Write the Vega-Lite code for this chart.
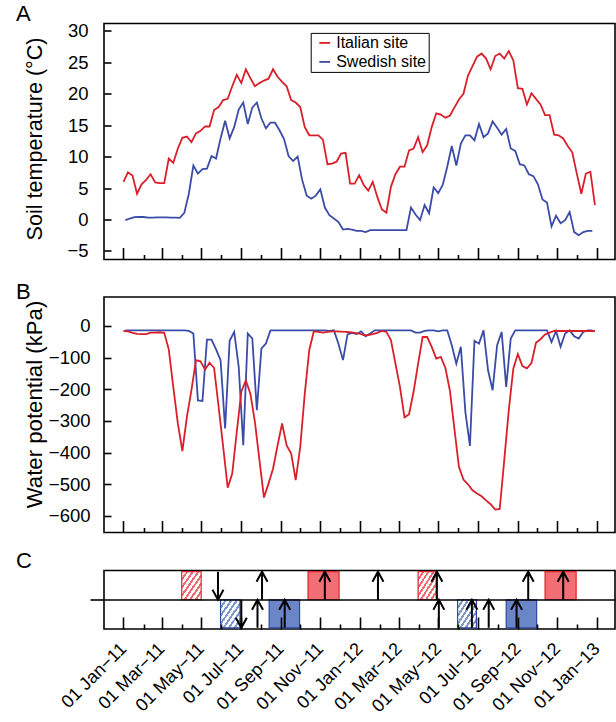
{
  "$schema": "https://vega.github.io/schema/vega-lite/v6.json",
  "padding": {"left": 15, "top": 2.5, "right": 1, "bottom": 0},
  "bounds": "flush",
  "spacing": 37.5,
  "background": "white",
  "config": {
    "font": "Liberation Sans",
    "view": {"stroke": "#000", "strokeWidth": 1.6},
    "axis": {"grid": false, "domain": false, "tickColor": "#000", "tickWidth": 1.6, "labelColor": "#000", "titleColor": "#000", "labelFont": "Liberation Sans", "titleFont": "Liberation Sans", "titleFontWeight": "normal"},
    "title": {"fontSize": 22, "fontWeight": "normal", "anchor": "start", "frame": "group", "offset": 0, "baseline": "alphabetic", "dx": -88, "color": "#000", "font": "Liberation Sans"}
  },
  "datasets": {
    "series": [
      {"site": "Swedish site", "date": "2011-01-04", "temp": -0.1, "wp": -14},
      {"site": "Swedish site", "date": "2011-01-11", "temp": 0.16, "wp": -14},
      {"site": "Swedish site", "date": "2011-01-18", "temp": 0.37, "wp": -14},
      {"site": "Swedish site", "date": "2011-01-25", "temp": 0.4, "wp": -14},
      {"site": "Swedish site", "date": "2011-02-01", "temp": 0.4, "wp": -14},
      {"site": "Swedish site", "date": "2011-02-08", "temp": 0.3, "wp": -14},
      {"site": "Swedish site", "date": "2011-02-15", "temp": 0.3, "wp": -14},
      {"site": "Swedish site", "date": "2011-02-22", "temp": 0.35, "wp": -14},
      {"site": "Swedish site", "date": "2011-03-01", "temp": 0.35, "wp": -14},
      {"site": "Swedish site", "date": "2011-03-08", "temp": 0.35, "wp": -14},
      {"site": "Swedish site", "date": "2011-03-15", "temp": 0.3, "wp": -14},
      {"site": "Swedish site", "date": "2011-03-22", "temp": 0.3, "wp": -14},
      {"site": "Swedish site", "date": "2011-03-29", "temp": 0.27, "wp": -14},
      {"site": "Swedish site", "date": "2011-04-05", "temp": 1.06, "wp": -14},
      {"site": "Swedish site", "date": "2011-04-12", "temp": 4.1, "wp": -16},
      {"site": "Swedish site", "date": "2011-04-19", "temp": 8.6, "wp": -24},
      {"site": "Swedish site", "date": "2011-04-26", "temp": 7.3, "wp": -235},
      {"site": "Swedish site", "date": "2011-05-03", "temp": 8.0, "wp": -237},
      {"site": "Swedish site", "date": "2011-05-10", "temp": 8.1, "wp": -43},
      {"site": "Swedish site", "date": "2011-05-17", "temp": 10.1, "wp": -43},
      {"site": "Swedish site", "date": "2011-05-24", "temp": 9.7, "wp": -74},
      {"site": "Swedish site", "date": "2011-05-31", "temp": 12.9, "wp": -108},
      {"site": "Swedish site", "date": "2011-06-07", "temp": 15.7, "wp": -324},
      {"site": "Swedish site", "date": "2011-06-14", "temp": 12.9, "wp": -47},
      {"site": "Swedish site", "date": "2011-06-21", "temp": 14.7, "wp": -19},
      {"site": "Swedish site", "date": "2011-06-28", "temp": 17.5, "wp": -129},
      {"site": "Swedish site", "date": "2011-07-05", "temp": 18.6, "wp": -377},
      {"site": "Swedish site", "date": "2011-07-12", "temp": 15.2, "wp": -24},
      {"site": "Swedish site", "date": "2011-07-19", "temp": 17.8, "wp": -40},
      {"site": "Swedish site", "date": "2011-07-26", "temp": 18.6, "wp": -266},
      {"site": "Swedish site", "date": "2011-08-02", "temp": 16.1, "wp": -72},
      {"site": "Swedish site", "date": "2011-08-09", "temp": 14.5, "wp": -56},
      {"site": "Swedish site", "date": "2011-08-16", "temp": 15.4, "wp": -14},
      {"site": "Swedish site", "date": "2011-08-23", "temp": 15.4, "wp": -14},
      {"site": "Swedish site", "date": "2011-08-30", "temp": 14.2, "wp": -14},
      {"site": "Swedish site", "date": "2011-09-06", "temp": 12.8, "wp": -14},
      {"site": "Swedish site", "date": "2011-09-13", "temp": 10.1, "wp": -14},
      {"site": "Swedish site", "date": "2011-09-20", "temp": 9.3, "wp": -14},
      {"site": "Swedish site", "date": "2011-09-27", "temp": 10.0, "wp": -14},
      {"site": "Swedish site", "date": "2011-10-04", "temp": 6.3, "wp": -14},
      {"site": "Swedish site", "date": "2011-10-11", "temp": 3.8, "wp": -14},
      {"site": "Swedish site", "date": "2011-10-18", "temp": 3.3, "wp": -14},
      {"site": "Swedish site", "date": "2011-10-25", "temp": 3.8, "wp": -14},
      {"site": "Swedish site", "date": "2011-11-01", "temp": 4.8, "wp": -14},
      {"site": "Swedish site", "date": "2011-11-08", "temp": 1.9, "wp": -14},
      {"site": "Swedish site", "date": "2011-11-15", "temp": 0.7, "wp": -16},
      {"site": "Swedish site", "date": "2011-11-22", "temp": 0.16, "wp": -14},
      {"site": "Swedish site", "date": "2011-11-29", "temp": -0.4, "wp": -56},
      {"site": "Swedish site", "date": "2011-12-06", "temp": -1.6, "wp": -108},
      {"site": "Swedish site", "date": "2011-12-13", "temp": -1.5, "wp": -27},
      {"site": "Swedish site", "date": "2011-12-20", "temp": -1.6, "wp": -22},
      {"site": "Swedish site", "date": "2011-12-27", "temp": -1.8, "wp": -26},
      {"site": "Swedish site", "date": "2012-01-03", "temp": -1.8, "wp": -17},
      {"site": "Swedish site", "date": "2012-01-10", "temp": -2.0, "wp": -33},
      {"site": "Swedish site", "date": "2012-01-17", "temp": -1.7, "wp": -24},
      {"site": "Swedish site", "date": "2012-01-24", "temp": -1.7, "wp": -14},
      {"site": "Swedish site", "date": "2012-01-31", "temp": -1.7, "wp": -14},
      {"site": "Swedish site", "date": "2012-02-07", "temp": -1.7, "wp": -14},
      {"site": "Swedish site", "date": "2012-02-14", "temp": -1.7, "wp": -14},
      {"site": "Swedish site", "date": "2012-02-21", "temp": -1.7, "wp": -14},
      {"site": "Swedish site", "date": "2012-02-28", "temp": -1.7, "wp": -14},
      {"site": "Swedish site", "date": "2012-03-06", "temp": -1.7, "wp": -14},
      {"site": "Swedish site", "date": "2012-03-13", "temp": -1.7, "wp": -14},
      {"site": "Swedish site", "date": "2012-03-20", "temp": 1.9, "wp": -14},
      {"site": "Swedish site", "date": "2012-03-27", "temp": 0.8, "wp": -21},
      {"site": "Swedish site", "date": "2012-04-03", "temp": -0.1, "wp": -21},
      {"site": "Swedish site", "date": "2012-04-10", "temp": 2.3, "wp": -16},
      {"site": "Swedish site", "date": "2012-04-17", "temp": 1.0, "wp": -14},
      {"site": "Swedish site", "date": "2012-04-24", "temp": 5.1, "wp": -14},
      {"site": "Swedish site", "date": "2012-05-01", "temp": 4.2, "wp": -17},
      {"site": "Swedish site", "date": "2012-05-08", "temp": 5.5, "wp": -14},
      {"site": "Swedish site", "date": "2012-05-15", "temp": 8.4, "wp": -14},
      {"site": "Swedish site", "date": "2012-05-22", "temp": 11.7, "wp": -61},
      {"site": "Swedish site", "date": "2012-05-29", "temp": 8.6, "wp": -119},
      {"site": "Swedish site", "date": "2012-06-05", "temp": 12.1, "wp": -66},
      {"site": "Swedish site", "date": "2012-06-12", "temp": 13.4, "wp": -272},
      {"site": "Swedish site", "date": "2012-06-19", "temp": 13.4, "wp": -379},
      {"site": "Swedish site", "date": "2012-06-26", "temp": 12.6, "wp": -47},
      {"site": "Swedish site", "date": "2012-07-03", "temp": 15.2, "wp": -56},
      {"site": "Swedish site", "date": "2012-07-10", "temp": 13.1, "wp": -14},
      {"site": "Swedish site", "date": "2012-07-17", "temp": 13.7, "wp": -140},
      {"site": "Swedish site", "date": "2012-07-24", "temp": 15.6, "wp": -203},
      {"site": "Swedish site", "date": "2012-07-31", "temp": 14.6, "wp": -61},
      {"site": "Swedish site", "date": "2012-08-07", "temp": 13.5, "wp": -19},
      {"site": "Swedish site", "date": "2012-08-14", "temp": 14.4, "wp": -193},
      {"site": "Swedish site", "date": "2012-08-21", "temp": 11.3, "wp": -40},
      {"site": "Swedish site", "date": "2012-08-28", "temp": 10.9, "wp": -14},
      {"site": "Swedish site", "date": "2012-09-04", "temp": 8.8, "wp": -14},
      {"site": "Swedish site", "date": "2012-09-11", "temp": 8.6, "wp": -14},
      {"site": "Swedish site", "date": "2012-09-18", "temp": 7.2, "wp": -14},
      {"site": "Swedish site", "date": "2012-09-25", "temp": 6.9, "wp": -14},
      {"site": "Swedish site", "date": "2012-10-02", "temp": 5.6, "wp": -14},
      {"site": "Swedish site", "date": "2012-10-09", "temp": 3.2, "wp": -14},
      {"site": "Swedish site", "date": "2012-10-16", "temp": 2.7, "wp": -14},
      {"site": "Swedish site", "date": "2012-10-23", "temp": -1.1, "wp": -51},
      {"site": "Swedish site", "date": "2012-10-30", "temp": 0.6, "wp": -16},
      {"site": "Swedish site", "date": "2012-11-06", "temp": -0.6, "wp": -66},
      {"site": "Swedish site", "date": "2012-11-13", "temp": -0.1, "wp": -24},
      {"site": "Swedish site", "date": "2012-11-20", "temp": 1.2, "wp": -14},
      {"site": "Swedish site", "date": "2012-11-27", "temp": -2.0, "wp": -33},
      {"site": "Swedish site", "date": "2012-12-04", "temp": -2.5, "wp": -40},
      {"site": "Swedish site", "date": "2012-12-11", "temp": -2.0, "wp": -19},
      {"site": "Swedish site", "date": "2012-12-18", "temp": -1.8, "wp": -14},
      {"site": "Swedish site", "date": "2012-12-25", "temp": -1.8, "wp": -14},
      {"site": "Italian site", "date": "2011-01-01", "temp": 6.0, "wp": -16},
      {"site": "Italian site", "date": "2011-01-08", "temp": 7.5, "wp": -17},
      {"site": "Italian site", "date": "2011-01-15", "temp": 7.0, "wp": -22},
      {"site": "Italian site", "date": "2011-01-22", "temp": 4.1, "wp": -25},
      {"site": "Italian site", "date": "2011-01-29", "temp": 5.6, "wp": -26},
      {"site": "Italian site", "date": "2011-02-05", "temp": 6.3, "wp": -26},
      {"site": "Italian site", "date": "2011-02-12", "temp": 7.2, "wp": -21},
      {"site": "Italian site", "date": "2011-02-19", "temp": 5.9, "wp": -21},
      {"site": "Italian site", "date": "2011-02-26", "temp": 5.8, "wp": -20},
      {"site": "Italian site", "date": "2011-03-05", "temp": 5.8, "wp": -22},
      {"site": "Italian site", "date": "2011-03-12", "temp": 9.7, "wp": -74},
      {"site": "Italian site", "date": "2011-03-19", "temp": 9.0, "wp": -193},
      {"site": "Italian site", "date": "2011-03-26", "temp": 11.3, "wp": -308},
      {"site": "Italian site", "date": "2011-04-02", "temp": 13.0, "wp": -395},
      {"site": "Italian site", "date": "2011-04-09", "temp": 13.2, "wp": -287},
      {"site": "Italian site", "date": "2011-04-16", "temp": 12.3, "wp": -203},
      {"site": "Italian site", "date": "2011-04-23", "temp": 13.7, "wp": -108},
      {"site": "Italian site", "date": "2011-04-30", "temp": 14.1, "wp": -112},
      {"site": "Italian site", "date": "2011-05-07", "temp": 14.8, "wp": -138},
      {"site": "Italian site", "date": "2011-05-14", "temp": 14.8, "wp": -116},
      {"site": "Italian site", "date": "2011-05-21", "temp": 17.4, "wp": -133},
      {"site": "Italian site", "date": "2011-05-28", "temp": 17.9, "wp": -256},
      {"site": "Italian site", "date": "2011-06-04", "temp": 19.0, "wp": -382},
      {"site": "Italian site", "date": "2011-06-11", "temp": 19.2, "wp": -511},
      {"site": "Italian site", "date": "2011-06-18", "temp": 21.2, "wp": -466},
      {"site": "Italian site", "date": "2011-06-25", "temp": 23.0, "wp": -335},
      {"site": "Italian site", "date": "2011-07-02", "temp": 21.7, "wp": -208},
      {"site": "Italian site", "date": "2011-07-09", "temp": 23.9, "wp": -172},
      {"site": "Italian site", "date": "2011-07-16", "temp": 22.5, "wp": -214},
      {"site": "Italian site", "date": "2011-07-23", "temp": 21.2, "wp": -303},
      {"site": "Italian site", "date": "2011-07-30", "temp": 21.7, "wp": -424},
      {"site": "Italian site", "date": "2011-08-06", "temp": 22.1, "wp": -542},
      {"site": "Italian site", "date": "2011-08-13", "temp": 22.4, "wp": -498},
      {"site": "Italian site", "date": "2011-08-20", "temp": 23.9, "wp": -451},
      {"site": "Italian site", "date": "2011-08-27", "temp": 22.7, "wp": -377},
      {"site": "Italian site", "date": "2011-09-03", "temp": 21.9, "wp": -308},
      {"site": "Italian site", "date": "2011-09-10", "temp": 21.2, "wp": -377},
      {"site": "Italian site", "date": "2011-09-17", "temp": 19.0, "wp": -403},
      {"site": "Italian site", "date": "2011-09-24", "temp": 18.6, "wp": -487},
      {"site": "Italian site", "date": "2011-10-01", "temp": 17.9, "wp": -382},
      {"site": "Italian site", "date": "2011-10-08", "temp": 14.7, "wp": -214},
      {"site": "Italian site", "date": "2011-10-15", "temp": 13.4, "wp": -75},
      {"site": "Italian site", "date": "2011-10-22", "temp": 13.4, "wp": -17},
      {"site": "Italian site", "date": "2011-10-29", "temp": 13.4, "wp": -19},
      {"site": "Italian site", "date": "2011-11-05", "temp": 12.7, "wp": -21},
      {"site": "Italian site", "date": "2011-11-12", "temp": 8.8, "wp": -19},
      {"site": "Italian site", "date": "2011-11-19", "temp": 8.9, "wp": -17},
      {"site": "Italian site", "date": "2011-11-26", "temp": 9.2, "wp": -17},
      {"site": "Italian site", "date": "2011-12-03", "temp": 10.5, "wp": -18},
      {"site": "Italian site", "date": "2011-12-10", "temp": 10.6, "wp": -19},
      {"site": "Italian site", "date": "2011-12-17", "temp": 5.7, "wp": -20},
      {"site": "Italian site", "date": "2011-12-24", "temp": 5.7, "wp": -22},
      {"site": "Italian site", "date": "2011-12-31", "temp": 7.05, "wp": -24},
      {"site": "Italian site", "date": "2012-01-07", "temp": 5.5, "wp": -29},
      {"site": "Italian site", "date": "2012-01-14", "temp": 4.6, "wp": -29},
      {"site": "Italian site", "date": "2012-01-21", "temp": 6.0, "wp": -26},
      {"site": "Italian site", "date": "2012-01-28", "temp": 3.6, "wp": -22},
      {"site": "Italian site", "date": "2012-02-04", "temp": 1.6, "wp": -16},
      {"site": "Italian site", "date": "2012-02-11", "temp": 1.1, "wp": -19},
      {"site": "Italian site", "date": "2012-02-18", "temp": 5.2, "wp": -45},
      {"site": "Italian site", "date": "2012-02-25", "temp": 7.2, "wp": -119},
      {"site": "Italian site", "date": "2012-03-03", "temp": 8.4, "wp": -193},
      {"site": "Italian site", "date": "2012-03-10", "temp": 8.4, "wp": -289},
      {"site": "Italian site", "date": "2012-03-17", "temp": 11.0, "wp": -279},
      {"site": "Italian site", "date": "2012-03-24", "temp": 11.3, "wp": -208},
      {"site": "Italian site", "date": "2012-03-31", "temp": 13.1, "wp": -119},
      {"site": "Italian site", "date": "2012-04-07", "temp": 10.7, "wp": -35},
      {"site": "Italian site", "date": "2012-04-14", "temp": 11.8, "wp": -35},
      {"site": "Italian site", "date": "2012-04-21", "temp": 14.7, "wp": -66},
      {"site": "Italian site", "date": "2012-04-28", "temp": 16.9, "wp": -103},
      {"site": "Italian site", "date": "2012-05-05", "temp": 16.7, "wp": -98},
      {"site": "Italian site", "date": "2012-05-12", "temp": 16.2, "wp": -132},
      {"site": "Italian site", "date": "2012-05-19", "temp": 16.5, "wp": -203},
      {"site": "Italian site", "date": "2012-05-26", "temp": 17.8, "wp": -324},
      {"site": "Italian site", "date": "2012-06-02", "temp": 19.1, "wp": -445},
      {"site": "Italian site", "date": "2012-06-09", "temp": 20.0, "wp": -485},
      {"site": "Italian site", "date": "2012-06-16", "temp": 22.9, "wp": -500},
      {"site": "Italian site", "date": "2012-06-23", "temp": 24.4, "wp": -519},
      {"site": "Italian site", "date": "2012-06-30", "temp": 25.9, "wp": -529},
      {"site": "Italian site", "date": "2012-07-07", "temp": 26.4, "wp": -538},
      {"site": "Italian site", "date": "2012-07-14", "temp": 25.6, "wp": -551},
      {"site": "Italian site", "date": "2012-07-21", "temp": 23.9, "wp": -563},
      {"site": "Italian site", "date": "2012-07-28", "temp": 26.0, "wp": -580},
      {"site": "Italian site", "date": "2012-08-04", "temp": 26.4, "wp": -578},
      {"site": "Italian site", "date": "2012-08-11", "temp": 25.6, "wp": -424},
      {"site": "Italian site", "date": "2012-08-18", "temp": 26.8, "wp": -266},
      {"site": "Italian site", "date": "2012-08-25", "temp": 25.3, "wp": -135},
      {"site": "Italian site", "date": "2012-09-01", "temp": 20.9, "wp": -89},
      {"site": "Italian site", "date": "2012-09-08", "temp": 20.8, "wp": -127},
      {"site": "Italian site", "date": "2012-09-15", "temp": 18.3, "wp": -134},
      {"site": "Italian site", "date": "2012-09-22", "temp": 20.1, "wp": -117},
      {"site": "Italian site", "date": "2012-09-29", "temp": 19.2, "wp": -53},
      {"site": "Italian site", "date": "2012-10-06", "temp": 18.3, "wp": -42},
      {"site": "Italian site", "date": "2012-10-13", "temp": 16.6, "wp": -27},
      {"site": "Italian site", "date": "2012-10-20", "temp": 16.6, "wp": -21},
      {"site": "Italian site", "date": "2012-10-27", "temp": 13.5, "wp": -16},
      {"site": "Italian site", "date": "2012-11-03", "temp": 13.4, "wp": -16},
      {"site": "Italian site", "date": "2012-11-10", "temp": 12.9, "wp": -16},
      {"site": "Italian site", "date": "2012-11-17", "temp": 11.7, "wp": -16},
      {"site": "Italian site", "date": "2012-11-24", "temp": 10.7, "wp": -16},
      {"site": "Italian site", "date": "2012-12-01", "temp": 7.3, "wp": -16},
      {"site": "Italian site", "date": "2012-12-08", "temp": 4.1, "wp": -16},
      {"site": "Italian site", "date": "2012-12-15", "temp": 7.3, "wp": -16},
      {"site": "Italian site", "date": "2012-12-22", "temp": 7.6, "wp": -16},
      {"site": "Italian site", "date": "2012-12-29", "temp": 2.3, "wp": -16}
    ],
    "periods": [
      {"site": "Italian site", "phase": "early", "start": "2011-04-01", "end": "2011-05-01"},
      {"site": "Italian site", "phase": "late", "start": "2011-10-13", "end": "2011-11-30"},
      {"site": "Italian site", "phase": "early", "start": "2012-03-31", "end": "2012-04-28"},
      {"site": "Italian site", "phase": "late", "start": "2012-10-13", "end": "2012-11-30"},
      {"site": "Swedish site", "phase": "early", "start": "2011-05-31", "end": "2011-06-30"},
      {"site": "Swedish site", "phase": "late", "start": "2011-08-14", "end": "2011-09-30"},
      {"site": "Swedish site", "phase": "early", "start": "2012-05-31", "end": "2012-06-29"},
      {"site": "Swedish site", "phase": "late", "start": "2012-08-14", "end": "2012-09-30"}
    ],
    "events": [
      {"site": "Italian site", "date": "2011-05-27", "direction": "down"},
      {"site": "Italian site", "date": "2011-08-03", "direction": "up"},
      {"site": "Italian site", "date": "2011-11-08", "direction": "up"},
      {"site": "Italian site", "date": "2012-01-29", "direction": "up"},
      {"site": "Italian site", "date": "2012-04-29", "direction": "up"},
      {"site": "Italian site", "date": "2012-09-17", "direction": "up"},
      {"site": "Italian site", "date": "2012-11-10", "direction": "up"},
      {"site": "Swedish site", "date": "2011-07-02", "direction": "down"},
      {"site": "Swedish site", "date": "2011-07-27", "direction": "up"},
      {"site": "Swedish site", "date": "2011-09-07", "direction": "up"},
      {"site": "Swedish site", "date": "2012-05-02", "direction": "up"},
      {"site": "Swedish site", "date": "2012-06-22", "direction": "up"},
      {"site": "Swedish site", "date": "2012-07-18", "direction": "up"},
      {"site": "Swedish site", "date": "2012-08-30", "direction": "up"}
    ]
  },
  "vconcat": [
    {
      "width": 511,
      "height": 236,
      "title": {"text": "A", "dy": 8.4},
      "data": {"name": "series"},
      "mark": {"type": "line", "strokeWidth": 1.8},
      "encoding": {
        "x": {
          "field": "date", "type": "temporal",
          "scale": {"type": "utc", "domain": [{"year": 2010, "month": 12, "date": 2, "utc": true}, {"year": 2013, "month": 1, "date": 29, "utc": true}]},
          "axis": {"tickCount": {"interval": "month", "step": 1}, "labels": false, "title": null, "tickSize": {"condition": {"test": "utcmonth(datum.value) % 2 == 0", "value": -12}, "value": -5}}
        },
        "y": {
          "field": "temp", "type": "quantitative",
          "scale": {"domain": [-6.36, 31.18], "nice": false, "zero": false},
          "axis": {"values": [-5, 0, 5, 10, 15, 20, 25, 30], "tickSize": -7, "labelPadding": 23, "labelFontSize": 18.5, "labelBaseline": "middle", "title": "Soil temperature (°C)", "titleFontSize": 21.6, "titleX": -63, "titleY": 115, "titleBaseline": "alphabetic", "titleAngle": -90, "titleAlign": "center"}
        },
        "color": {
          "field": "site", "type": "nominal",
          "scale": {"domain": ["Italian site", "Swedish site"], "range": ["#D9202A", "#3A4CA8"]},
          "legend": {"title": null, "orient": "none", "legendX": 206.7, "legendY": 9.4, "direction": "vertical", "symbolType": "stroke", "symbolSize": 115, "symbolStrokeWidth": 1.8, "symbolOffset": 4, "labelFontSize": 16, "labelColor": "#000", "labelFont": "Liberation Sans", "strokeColor": "#000", "fillColor": "white", "padding": 2, "rowPadding": 3, "labelOffset": 3.5}
        }
      }
    },
    {
      "width": 511,
      "height": 235.5,
      "title": {"text": "B", "dy": 10.6},
      "data": {"name": "series"},
      "mark": {"type": "line", "strokeWidth": 1.8},
      "encoding": {
        "x": {
          "field": "date", "type": "temporal",
          "scale": {"type": "utc", "domain": [{"year": 2010, "month": 12, "date": 2, "utc": true}, {"year": 2013, "month": 1, "date": 29, "utc": true}]},
          "axis": {"tickCount": {"interval": "month", "step": 1}, "labels": false, "title": null, "tickSize": {"condition": {"test": "utcmonth(datum.value) % 2 == 0", "value": -12}, "value": -5}}
        },
        "y": {
          "field": "wp", "type": "quantitative",
          "scale": {"domain": [-652.3, 91.3], "nice": false, "zero": false},
          "axis": {"values": [-600, -500, -400, -300, -200, -100, 0], "tickSize": -7, "labelPadding": 21, "labelFontSize": 18.5, "labelBaseline": "middle", "title": "Water potential (kPa)", "titleFontSize": 22.2, "titleX": -63, "titleY": 107, "titleBaseline": "alphabetic", "titleAngle": -90, "titleAlign": "center"}
        },
        "color": {
          "field": "site", "type": "nominal",
          "scale": {"domain": ["Italian site", "Swedish site"], "range": ["#D9202A", "#3A4CA8"]},
          "legend": null
        }
      }
    },
    {
      "width": 511,
      "height": 58.5,
      "title": {"text": "C", "dy": 9.5},
      "layer": [
        {
          "data": {"name": "periods"},
          "transform": [{"filter": "datum.phase == 'early' && datum.site == 'Italian site'"}],
          "mark": {"type": "bar", "stroke": "#E0262E", "strokeWidth": 1.2, "fill": {"gradient": "linear", "x1": 0, "y1": 0, "x2": 1, "y2": 1, "stops": [
            {"offset": 0, "color": "#EE6A70"}, {"offset": 0.03, "color": "#EE6A70"}, {"offset": 0.03, "color": "#FFFFFF"},
            {"offset": 0.113, "color": "#FFFFFF"}, {"offset": 0.113, "color": "#EE6A70"}, {"offset": 0.173, "color": "#EE6A70"}, {"offset": 0.173, "color": "#FFFFFF"},
            {"offset": 0.256, "color": "#FFFFFF"}, {"offset": 0.256, "color": "#EE6A70"}, {"offset": 0.316, "color": "#EE6A70"}, {"offset": 0.316, "color": "#FFFFFF"},
            {"offset": 0.399, "color": "#FFFFFF"}, {"offset": 0.399, "color": "#EE6A70"}, {"offset": 0.459, "color": "#EE6A70"}, {"offset": 0.459, "color": "#FFFFFF"},
            {"offset": 0.541, "color": "#FFFFFF"}, {"offset": 0.541, "color": "#EE6A70"}, {"offset": 0.601, "color": "#EE6A70"}, {"offset": 0.601, "color": "#FFFFFF"},
            {"offset": 0.684, "color": "#FFFFFF"}, {"offset": 0.684, "color": "#EE6A70"}, {"offset": 0.744, "color": "#EE6A70"}, {"offset": 0.744, "color": "#FFFFFF"},
            {"offset": 0.827, "color": "#FFFFFF"}, {"offset": 0.827, "color": "#EE6A70"}, {"offset": 0.887, "color": "#EE6A70"}, {"offset": 0.887, "color": "#FFFFFF"},
            {"offset": 0.97, "color": "#FFFFFF"}, {"offset": 0.97, "color": "#EE6A70"}, {"offset": 1, "color": "#EE6A70"}
          ]}},
          "encoding": {
            "x": {
              "field": "start", "type": "temporal", "title": null,
              "scale": {"type": "utc", "domain": [{"year": 2010, "month": 12, "date": 2, "utc": true}, {"year": 2013, "month": 1, "date": 29, "utc": true}]},
              "axis": {"tickCount": {"interval": "month", "step": 1}, "title": null, "zindex": 1, "labelExpr": "utcmonth(datum.value) % 2 == 0 ? utcFormat(datum.value, '%d %b−%y') : ''", "labelAngle": -45, "labelAlign": "right", "labelBaseline": "middle", "labelFontSize": 18, "labelPadding": 29, "labelFlush": false, "labelOverlap": false, "labelBound": false, "tickSize": {"condition": {"test": "utcmonth(datum.value) % 2 == 0", "value": -12}, "value": -5}}
            },
            "x2": {"field": "end"},
            "y": {
              "field": "site", "type": "nominal", "title": null,
              "scale": {"domain": ["Italian site", "Swedish site"], "paddingInner": 0, "paddingOuter": 0.04},
              "axis": {"values": ["Swedish site"], "bandPosition": 0, "grid": true, "gridColor": "#000", "gridWidth": 1.6, "tickSize": 14, "labels": false, "title": null, "zindex": 1}
            }
          }
        },
        {
          "data": {"name": "periods"},
          "transform": [{"filter": "datum.phase == 'early' && datum.site == 'Swedish site'"}],
          "mark": {"type": "bar", "stroke": "#2E47A5", "strokeWidth": 1.2, "fill": {"gradient": "linear", "x1": 0, "y1": 0, "x2": 1, "y2": 1, "stops": [
            {"offset": 0, "color": "#7E96D0"}, {"offset": 0.03, "color": "#7E96D0"}, {"offset": 0.03, "color": "#FFFFFF"},
            {"offset": 0.113, "color": "#FFFFFF"}, {"offset": 0.113, "color": "#7E96D0"}, {"offset": 0.173, "color": "#7E96D0"}, {"offset": 0.173, "color": "#FFFFFF"},
            {"offset": 0.256, "color": "#FFFFFF"}, {"offset": 0.256, "color": "#7E96D0"}, {"offset": 0.316, "color": "#7E96D0"}, {"offset": 0.316, "color": "#FFFFFF"},
            {"offset": 0.399, "color": "#FFFFFF"}, {"offset": 0.399, "color": "#7E96D0"}, {"offset": 0.459, "color": "#7E96D0"}, {"offset": 0.459, "color": "#FFFFFF"},
            {"offset": 0.541, "color": "#FFFFFF"}, {"offset": 0.541, "color": "#7E96D0"}, {"offset": 0.601, "color": "#7E96D0"}, {"offset": 0.601, "color": "#FFFFFF"},
            {"offset": 0.684, "color": "#FFFFFF"}, {"offset": 0.684, "color": "#7E96D0"}, {"offset": 0.744, "color": "#7E96D0"}, {"offset": 0.744, "color": "#FFFFFF"},
            {"offset": 0.827, "color": "#FFFFFF"}, {"offset": 0.827, "color": "#7E96D0"}, {"offset": 0.887, "color": "#7E96D0"}, {"offset": 0.887, "color": "#FFFFFF"},
            {"offset": 0.97, "color": "#FFFFFF"}, {"offset": 0.97, "color": "#7E96D0"}, {"offset": 1, "color": "#7E96D0"}
          ]}},
          "encoding": {
            "x": {"field": "start", "type": "temporal", "title": null},
            "x2": {"field": "end"},
            "y": {"field": "site", "type": "nominal", "title": null}
          }
        },
        {
          "data": {"name": "periods"},
          "transform": [{"filter": "datum.phase == 'late'"}],
          "mark": {"type": "bar", "strokeWidth": 1.2},
          "encoding": {
            "x": {"field": "start", "type": "temporal", "title": null},
            "x2": {"field": "end"},
            "y": {"field": "site", "type": "nominal", "title": null},
            "fill": {"field": "site", "type": "nominal", "scale": {"domain": ["Italian site", "Swedish site"], "range": ["#F06E74", "#6B86C6"]}, "legend": null},
            "stroke": {"field": "site", "type": "nominal", "scale": {"domain": ["Italian site", "Swedish site"], "range": ["#E0262E", "#2E47A5"]}, "legend": null}
          }
        },
        {
          "data": {"name": "events"},
          "mark": {"type": "point", "filled": false, "stroke": "#000", "strokeWidth": 2, "size": 100, "opacity": 1},
          "encoding": {
            "x": {"field": "date", "type": "temporal", "title": null},
            "y": {"field": "site", "type": "nominal", "title": null},
            "shape": {"field": "direction", "type": "nominal", "scale": {"domain": ["up", "down"], "range": ["M0,2.8L0,-2.8M-1.1,-0.8L0,-2.8L1.1,-0.8", "M0,-2.8L0,2.8M-1.1,0.8L0,2.8L1.1,0.8"]}, "legend": null}
          }
        }
      ]
    }
  ]
}
